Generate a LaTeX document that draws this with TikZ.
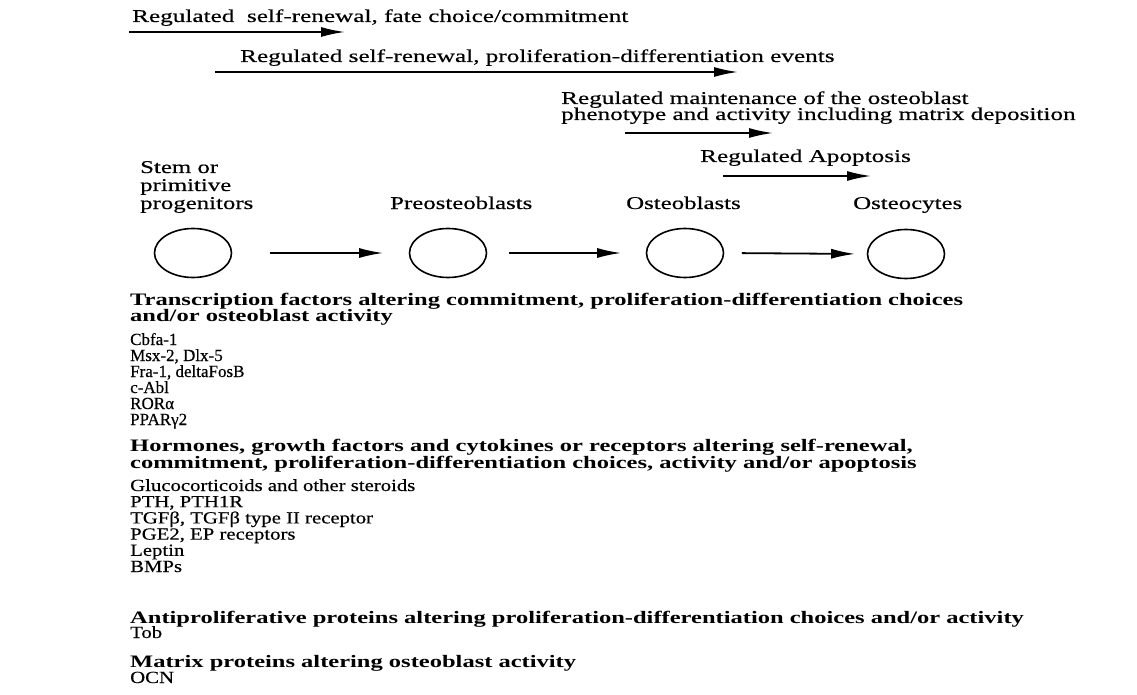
\documentclass[tikz,border=0pt]{standalone}
\usepackage{fontspec}
\setmainfont{Liberation Serif}
\newfontfamily\flowfont{Liberation Serif}[FakeStretch=1.4, FakeBold=0.4]
\newfontfamily\cellfont{Liberation Serif}[FakeStretch=1.38, FakeBold=0.4]
\newfontfamily\headfont{Liberation Serif}[FakeStretch=1.4]
\newfontfamily\tflistfont{Liberation Serif}[FakeStretch=1.0, FakeBold=0.4]
\newfontfamily\hglistfont{Liberation Serif}[FakeStretch=1.22, FakeBold=0.4]
\usetikzlibrary{arrows.meta,positioning,shapes.geometric}

\begin{document}
\begin{tikzpicture}[
    x=1pt, y=1pt,
    >={Latex[length=24pt,width=10pt]},
    flow/.style={anchor=base west, inner sep=0pt, font=\flowfont\fontsize{18}{18}\selectfont},
    flowarrow/.style={->, line width=1.8pt},
    cell/.style={draw, ellipse, line width=1.6pt, minimum width=77pt, minimum height=49pt, inner sep=0pt},
    cellname/.style={anchor=base west, inner sep=0pt, font=\cellfont\fontsize{18}{18}\selectfont},
    stagearrow/.style={->, line width=1.8pt},
    head/.style={anchor=base west, inner sep=0pt, font=\headfont\bfseries\fontsize{17.5}{17.5}\selectfont},
    tfentry/.style={anchor=base west, inner sep=0pt, font=\tflistfont\fontsize{17}{17}\selectfont},
    hgentry/.style={anchor=base west, inner sep=0pt, font=\hglistfont\fontsize{17}{17}\selectfont}
]
\fill[white] (0,0) rectangle (1137,-695);
\useasboundingbox (0,0) rectangle (1137,-695);

% regulated events above the lineage
\node[flow] (selfren) at (132,-22) {Regulated~ self-renewal, fate choice/commitment};
\coordinate (selfren-s) at (129,-32);
\coordinate (selfren-e) at (345,-32);
\draw[flowarrow] (selfren-s) -- (selfren-e);

\node[flow] (prolif) at (240,-62) {Regulated self-renewal, proliferation-differentiation events};
\coordinate (prolif-s) at (215,-72);
\coordinate (prolif-e) at (738,-72);
\draw[flowarrow] (prolif-s) -- (prolif-e);

\node[flow] (maint-a) at (561,-104) {Regulated maintenance of the osteoblast};
\node[flow] (maint-b) at (561,-120) {phenotype and activity including matrix deposition};
\coordinate (maint-s) at (625,-133);
\coordinate (maint-e) at (773,-133);
\draw[flowarrow] (maint-s) -- (maint-e);

\node[flow] (apopt) at (700,-162) {Regulated Apoptosis};
\coordinate (apopt-s) at (723,-176);
\coordinate (apopt-e) at (871,-176);
\draw[flowarrow] (apopt-s) -- (apopt-e);

% lineage
\node[cellname] (stem-l1) at (140,-173) {Stem or};
\node[cellname] (stem-l2) at (140,-191) {primitive};
\node[cellname] (stem-l3) at (140,-209) {progenitors};
\node[cellname] (preob-l) at (390,-209) {Preosteoblasts};
\node[cellname] (ob-l) at (626,-209) {Osteoblasts};
\node[cellname] (ocy-l) at (853,-209) {Osteocytes};

\node[cell] (stem) at (193,-253) {};
\node[cell] (preob) at (448,-253) {};
\node[cell] (ob) at (685,-253) {};
\node[cell] (ocy) at (906,-254) {};

\draw[stagearrow, shorten <=37.5pt, shorten >=25.5pt] (stem.east) -- (preob.west);
\draw[stagearrow, shorten <=21.5pt, shorten >=24.5pt] (preob.east) -- (ob.west);
\draw[stagearrow, shorten <=17.5pt, shorten >=11.5pt] (ob.east) -- (ocy.west);

% regulators
\node[head] (tf-h1) at (130,-305) {Transcription factors altering commitment, proliferation-differentiation choices};
\node[head] (tf-h2) at (130,-321) {and/or osteoblast activity};
\foreach \n/\txt in {0/Cbfa-1, 1/{Msx-2, Dlx-5}, 2/{Fra-1, deltaFosB}, 3/c-Abl, 4/RORα, 5/PPARγ2}
    \node[tfentry] (tf-\n) at (130,-345-16*\n) {\txt};

\node[head] (hg-h1) at (130,-451) {Hormones, growth factors and cytokines or receptors altering self-renewal,};
\node[head] (hg-h2) at (130,-468) {commitment, proliferation-differentiation choices, activity and/or apoptosis};
\foreach \n/\txt in {0/Glucocorticoids and other steroids, 1/{PTH, PTH1R}, 2/{TGFβ, TGFβ type II receptor}, 3/{PGE2, EP receptors}, 4/Leptin, 5/BMPs}
    \node[hgentry] (hg-\n) at (130,-491-16.2*\n) {\txt};

\node[head] (ap-h) at (130,-623) {Antiproliferative proteins altering proliferation-differentiation choices and/or activity};
\node[hgentry] (ap-0) at (130,-638) {Tob};

\node[head] (mx-h) at (130,-667) {Matrix proteins altering osteoblast activity};
\node[hgentry] (mx-0) at (130,-683) {OCN};
\end{tikzpicture}
\end{document}
